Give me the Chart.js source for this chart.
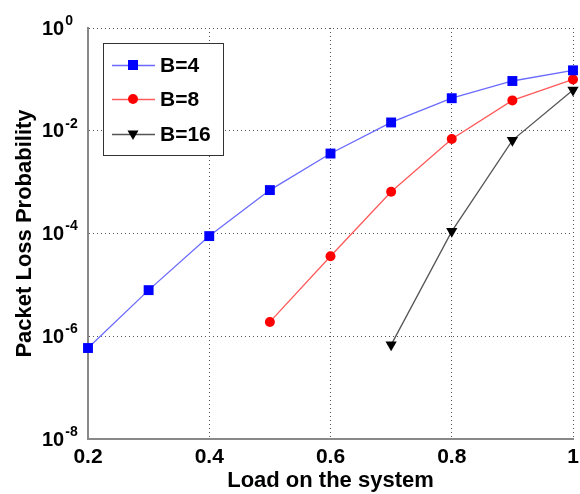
<!DOCTYPE html>
<html lang="en">
<head>
<meta charset="UTF-8" />
<title>Packet Loss Probability vs Load</title>
<script src="https://cdn.jsdelivr.net/npm/chart.js@4"></script>
<style>
  html, body { margin: 0; padding: 0; background: #fff; }
  #wrap { width: 580px; height: 494px; position: relative; }
</style>
</head>
<body>
<div id="wrap"><canvas id="chart"></canvas></div>
<script>
// values (log-scale y)
const loadsB4  = [0.2, 0.3, 0.4, 0.5, 0.6, 0.7, 0.8, 0.9, 1.0];
const lossB4   = [5.9e-7, 7.9e-6, 8.9e-5, 7.0e-4, 3.6e-3, 1.45e-2, 4.3e-2, 9.3e-2, 0.15];
const loadsB8  = [0.5, 0.6, 0.7, 0.8, 0.9, 1.0];
const lossB8   = [1.9e-6, 3.6e-5, 6.5e-4, 6.9e-3, 3.9e-2, 0.10];
const loadsB16 = [0.7, 0.8, 0.9, 1.0];
const lossB16  = [6.8e-7, 1.1e-4, 6.5e-3, 0.062];

const seriesNames = ['B=4', 'B=8', 'B=16'];
const xTicks = [0.2, 0.4, 0.6, 0.8, 1];
const xTickLabels = ['0.2', '0.4', '0.6', '0.8', '1'];
const yExponents = [0, -2, -4, -6, -8];

const FONT = "'Liberation Sans', Arial, sans-serif";

function pairs(xs, ys) {
  return xs.map((x, i) => ({ x: x, y: ys[i] }));
}

// marker for the legend box
function drawMarker(ctx, style, x, y, color) {
  ctx.save();
  ctx.fillStyle = color;
  ctx.beginPath();
  if (style === 'rect') {
    ctx.rect(x - 5, y - 5, 10, 10);
  } else if (style === 'circle') {
    ctx.arc(x, y, 5, 0, Math.PI * 2);
  } else {
    ctx.moveTo(x - 5.5, y - 3.5);
    ctx.lineTo(x + 5.5, y - 3.5);
    ctx.lineTo(x, y + 6);
    ctx.closePath();
  }
  ctx.fill();
  ctx.restore();
}

const decorations = {
  id: 'decorations',
  afterDraw(chart) {
    const ctx = chart.ctx;
    const xScale = chart.scales.x;
    const yScale = chart.scales.y;

    ctx.save();
    ctx.fillStyle = '#000';

    // x tick labels
    ctx.font = 'bold 21px ' + FONT;
    ctx.textAlign = 'center';
    ctx.textBaseline = 'middle';
    xTicks.forEach((v, i) => {
      ctx.fillText(xTickLabels[i], xScale.getPixelForValue(v), chart.chartArea.bottom + 18);
    });

    // y tick labels: 10 with superscript exponent
    ctx.textAlign = 'left';
    yScale.ticks.forEach(t => {
      const py = yScale.getPixelForValue(t.value);
      const exp = Math.round(Math.log10(t.value));
      ctx.font = 'bold 20px ' + FONT;
      ctx.fillText('10', 42, py + 1);
      const w = ctx.measureText('10').width;
      ctx.font = 'bold 14px ' + FONT;
      ctx.fillText(String(exp), 42 + w + 1, py - 7);
    });
    ctx.restore();

    // legend box
    const bx = 103, by = 43, bw = 120, bh = 112;
    ctx.save();
    ctx.fillStyle = '#fff';
    ctx.fillRect(bx, by, bw, bh);
    ctx.strokeStyle = '#333';
    ctx.lineWidth = 1;
    ctx.strokeRect(bx + 0.5, by + 0.5, bw, bh);
    const rows = [65, 99, 134];
    chart.data.datasets.forEach((ds, i) => {
      const ry = rows[i];
      ctx.strokeStyle = ds.borderColor;
      ctx.lineWidth = 1.5;
      ctx.beginPath();
      ctx.moveTo(112, ry + 0.5);
      ctx.lineTo(155, ry + 0.5);
      ctx.stroke();
      drawMarker(ctx, ds.pointStyle, 133, ry, ds.pointBackgroundColor);
      ctx.fillStyle = '#000';
      ctx.font = 'bold 21px ' + FONT;
      ctx.textBaseline = 'middle';
      ctx.textAlign = 'left';
      ctx.fillText(seriesNames[i], 160, ry + 1);
    });
    ctx.restore();
  }
};

new Chart(document.getElementById('chart'), {
  type: 'line',
  data: {
    datasets: [
      {
        label: seriesNames[0],
        data: pairs(loadsB4, lossB4),
        borderColor: '#6a6aff',
        borderWidth: 1.3,
        pointStyle: 'rect',
        pointRadius: 7,
        pointBackgroundColor: '#0000ff',
        pointBorderColor: '#0000ff',
        pointBorderWidth: 0,
        tension: 0,
        clip: false
      },
      {
        label: seriesNames[1],
        data: pairs(loadsB8, lossB8),
        borderColor: '#ff5a5a',
        borderWidth: 1.3,
        pointStyle: 'circle',
        pointRadius: 5,
        pointBackgroundColor: '#ff0000',
        pointBorderColor: '#ff0000',
        pointBorderWidth: 0,
        tension: 0,
        clip: false
      },
      {
        label: seriesNames[2],
        data: pairs(loadsB16, lossB16),
        borderColor: '#555555',
        borderWidth: 1.3,
        pointStyle: 'triangle',
        pointRotation: 180,
        pointRadius: 6.5,
        pointBackgroundColor: '#000000',
        pointBorderColor: '#000000',
        pointBorderWidth: 0,
        tension: 0,
        clip: false
      }
    ]
  },
  options: {
    responsive: true,
    maintainAspectRatio: false,
    devicePixelRatio: 1,
    animation: false,
    events: [],
    layout: { padding: { top: 28, right: 3, bottom: 0, left: 0 } },
    plugins: {
      legend: { display: false },
      tooltip: { enabled: false }
    },
    scales: {
      x: {
        type: 'linear',
        min: 0.2,
        max: 1,
        afterBuildTicks: s => { s.ticks = xTicks.map(v => ({ value: v })); },
        afterFit: s => { s.height = 55; },
        grid: { color: '#555', lineWidth: 1, drawTicks: false, tickLength: 0 },
        border: { display: true, color: '#888', width: 2, dash: [1, 3] },
        ticks: { display: false },
        title: {
          display: true,
          text: 'Load on the system',
          color: '#000',
          font: { family: FONT, size: 22, weight: 'bold' },
          padding: { top: 0, bottom: 0 }
        }
      },
      y: {
        type: 'logarithmic',
        min: 1e-8,
        max: 1,
        afterBuildTicks: s => { s.ticks = yExponents.map(e => ({ value: Math.pow(10, e) })); },
        afterFit: s => { s.width = 88; },
        grid: { color: '#555', lineWidth: 1, drawTicks: false, tickLength: 0 },
        border: { display: true, color: '#888', width: 2, dash: [1, 3] },
        ticks: { display: false },
        title: {
          display: true,
          text: 'Packet Loss Probability',
          color: '#000',
          font: { family: FONT, size: 22, weight: 'bold' },
          padding: { top: 12, bottom: 0 }
        }
      }
    }
  },
  plugins: [decorations]
});
</script>
</body>
</html>
